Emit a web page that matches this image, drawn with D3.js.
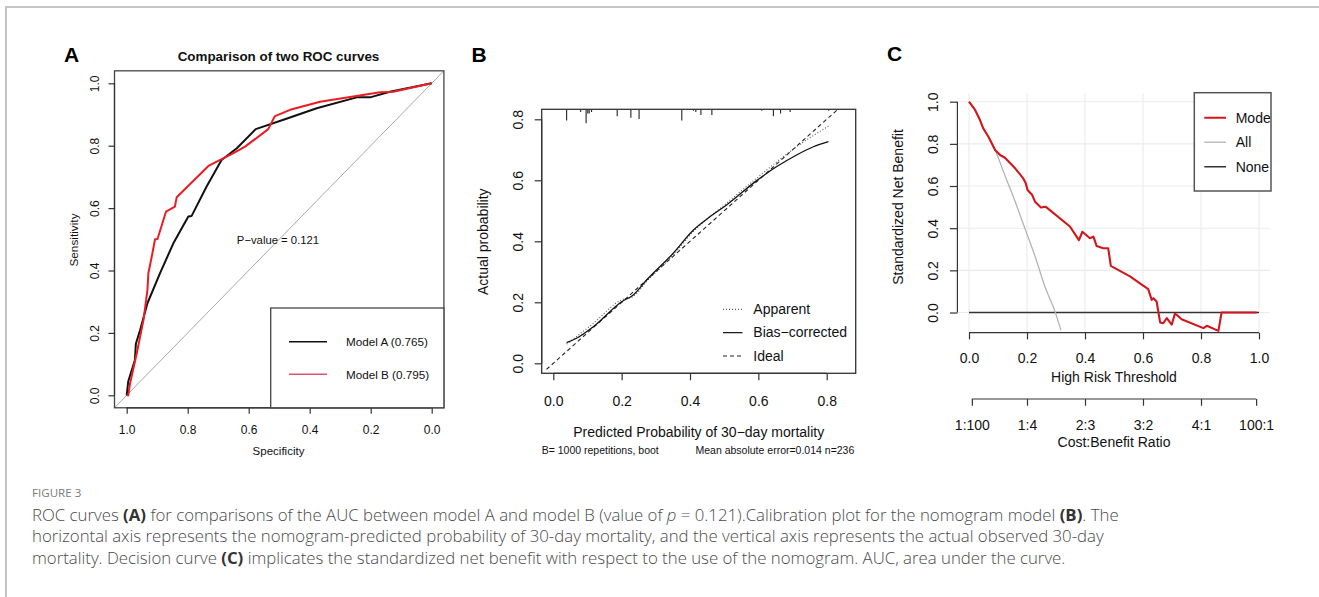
<!DOCTYPE html>
<html><head><meta charset="utf-8">
<script src="https://cdn.jsdelivr.net/npm/d3@7"></script>
<style>
html,body{margin:0;padding:0;background:#fff;}
svg{display:block;}
</style></head>
<body>
<svg id="fig" width="1319" height="597"></svg>
<script>
// ---------------- DATA ----------------
// Panel A: ROC curves
const rocSpecA = [1.0, 0.995, 0.973, 0.970, 0.956, 0.932, 0.891, 0.847, 0.798, 0.787, 0.738, 0.689, 0.639, 0.577, 0.486, 0.377, 0.246, 0.202, 0.137, 0.0];
const rocSensA = [0.0, 0.044, 0.113, 0.165, 0.209, 0.295, 0.391, 0.487, 0.573, 0.575, 0.669, 0.754, 0.792, 0.853, 0.883, 0.920, 0.955, 0.955, 0.973, 1.0];
const rocSpecB = [1.0, 0.995, 0.989, 0.967, 0.945, 0.932, 0.929, 0.918, 0.907, 0.899, 0.871, 0.842, 0.836, 0.792, 0.732, 0.650, 0.612, 0.536, 0.514, 0.464, 0.366, 0.169, 0.126, 0.0];
const rocSensB = [0.0, 0.0, 0.038, 0.135, 0.241, 0.338, 0.391, 0.444, 0.500, 0.501, 0.589, 0.605, 0.635, 0.677, 0.735, 0.776, 0.797, 0.853, 0.895, 0.915, 0.941, 0.971, 0.973, 1.0];
const rocTicks = [1.0, 0.8, 0.6, 0.4, 0.2, 0.0];
const rocLegend = ["Model A (0.765)", "Model B (0.795)"];
const pValueText = "P\u2212value = 0.121";

// Panel B: calibration
const calBiasX = [0.039, 0.068, 0.117, 0.200, 0.234, 0.273, 0.351, 0.410, 0.459, 0.507, 0.595, 0.654, 0.712, 0.761, 0.805];
const calBiasY = [0.068, 0.082, 0.120, 0.202, 0.224, 0.273, 0.361, 0.437, 0.481, 0.519, 0.599, 0.645, 0.683, 0.710, 0.727];
const calAppX = [0.039, 0.117, 0.200, 0.234, 0.273, 0.351, 0.410, 0.507, 0.595, 0.712, 0.810];
const calAppY = [0.063, 0.131, 0.208, 0.219, 0.268, 0.355, 0.432, 0.525, 0.607, 0.710, 0.781];
const calIdeal = [-0.02, 0.86];
const rugX = [0.039, 0.080, 0.096, 0.101, 0.105, 0.112, 0.187, 0.227, 0.251, 0.376, 0.410, 0.417, 0.432, 0.464, 0.610, 0.644, 0.665, 0.693, 0.806];
const rugCount = [8, 2, 10, 3, 3, 2, 5, 6, 7, 8, 1, 2, 4, 4, 1, 5, 3, 2, 1];
const calTicks = [0.0, 0.2, 0.4, 0.6, 0.8];
const calLegend = ["Apparent", "Bias\u2212corrected", "Ideal"];

// Panel C: decision curve
const dcaT = [0, 0.021, 0.038, 0.049, 0.067, 0.090, 0.107, 0.124, 0.159, 0.187, 0.195, 0.202, 0.218, 0.228, 0.248, 0.264, 0.348, 0.379, 0.391, 0.417, 0.429, 0.440, 0.463, 0.480, 0.489, 0.555, 0.618, 0.630, 0.636, 0.647, 0.659, 0.670, 0.682, 0.699, 0.710, 0.716, 0.733, 0.808, 0.820, 0.860, 0.871, 0.992];
const dcaModel = [1.0, 0.961, 0.913, 0.874, 0.834, 0.771, 0.747, 0.734, 0.684, 0.636, 0.616, 0.581, 0.557, 0.525, 0.498, 0.502, 0.408, 0.343, 0.383, 0.352, 0.360, 0.316, 0.305, 0.305, 0.221, 0.171, 0.111, 0.060, 0.068, 0.052, -0.047, -0.051, -0.027, -0.058, -0.006, -0.011, -0.032, -0.074, -0.063, -0.087, 0, 0];
const dcaAllT = [0, 0.021, 0.038, 0.049, 0.067, 0.090, 0.124, 0.159, 0.193, 0.228, 0.262, 0.297, 0.317];
const dcaAll = [1.0, 0.961, 0.913, 0.874, 0.834, 0.771, 0.650, 0.527, 0.398, 0.266, 0.122, 0.003, -0.084];
const dcaNoneT = [0, 1];
const dcaNone = [0, 0];
const dcaTicks = [0.0, 0.2, 0.4, 0.6, 0.8, 1.0];
const ratioTicks = [0.0099, 0.2, 0.4, 0.6, 0.8, 0.9901];
const ratioLabels = ["1:100", "1:4", "2:3", "3:2", "4:1", "100:1"];
const dcaLegend = ["Model", "All", "None"];

// Caption
const captionHead = "FIGURE 3";
const captionLines = [
  [["ROC curves ", ""], ["(A)", "b"], [" for comparisons of the AUC between model A and model B (value of ", ""], ["p", "i"], [" = 0.121).Calibration plot for the nomogram model ", ""], ["(B)", "b"], [". The", ""]],
  [["horizontal axis represents the nomogram-predicted probability of 30-day mortality, and the vertical axis represents the actual observed 30-day", ""]],
  [["mortality. Decision curve ", ""], ["(C)", "b"], [" implicates the standardized net benefit with respect to the use of the nomogram. AUC, area under the curve.", ""]]
];

// ---------------- DRAW ----------------
const svg = d3.select("#fig");
const F = "'Liberation Sans', Arial, Helvetica, sans-serif";
const fmt1 = d3.format(".1f");

// outer frame
svg.append("path").attr("d", "M6,597V7H1319").attr("fill", "none").attr("stroke", "#c4c4c4").attr("stroke-width", 2);

function zip(xs, ys) { return xs.map((x, i) => [x, ys[i]]); }

function axisBottomR(g, scale, ticks, y, tickLen, fs, labOff, labels) {
  const ax = d3.axisBottom(scale).tickValues(ticks).tickSize(tickLen).tickSizeOuter(0)
    .tickFormat((d, i) => labels ? labels[i] : fmt1(d));
  const a = g.append("g").attr("transform", `translate(0,${y})`).call(ax);
  a.select(".domain").remove();
  a.append("line").attr("x1", scale(ticks[0])).attr("x2", scale(ticks[ticks.length - 1]))
    .attr("stroke", "#333").attr("stroke-width", 1.2);
  a.selectAll(".tick line").attr("stroke", "#333").attr("stroke-width", 1.2);
  a.selectAll("text").attr("y", labOff).attr("dy", 0).attr("fill", "#111")
    .style("font-size", fs + "px").style("font-family", F);
  return a;
}
function axisLeftR(g, scale, ticks, x, tickLen, fs, labOff) {
  const ax = d3.axisLeft(scale).tickValues(ticks).tickSize(tickLen).tickSizeOuter(0).tickFormat(fmt1);
  const a = g.append("g").attr("transform", `translate(${x},0)`).call(ax);
  a.select(".domain").remove();
  a.append("line").attr("y1", scale(ticks[0])).attr("y2", scale(ticks[ticks.length - 1]))
    .attr("stroke", "#333").attr("stroke-width", 1.2);
  a.selectAll(".tick line").attr("stroke", "#333").attr("stroke-width", 1.2);
  a.selectAll("text").attr("transform", "rotate(-90)").attr("x", 0).attr("y", -labOff).attr("dy", 0)
    .attr("text-anchor", "middle").attr("fill", "#111")
    .style("font-size", fs + "px").style("font-family", F);
  return a;
}
function txt(g, x, y, s, fs, opts = {}) {
  const t = g.append("text").attr("x", x).attr("y", y).text(s)
    .style("font-family", F).style("font-size", fs + "px").attr("fill", opts.fill || "#111")
    .attr("text-anchor", opts.anchor || "start");
  if (opts.bold) t.style("font-weight", "bold");
  if (opts.rot) t.attr("transform", `rotate(-90,${x},${y})`);
  return t;
}

// ===== Panel A =====
{
  const g = svg.append("g");
  const x = d3.scaleLinear().domain([1, 0]).range([126.7, 431.7]);
  const y = d3.scaleLinear().domain([0, 1]).range([395.3, 83.3]);
  const x0 = x(1.04), x1 = x(-0.04), y0 = y(-0.04), y1 = y(1.04);
  g.append("clipPath").attr("id", "clipA").append("rect").attr("x", x0).attr("y", y1).attr("width", x1 - x0).attr("height", y0 - y1);
  const pg = g.append("g").attr("clip-path", "url(#clipA)");
  pg.append("line").attr("x1", x(1.04)).attr("y1", y(-0.04)).attr("x2", x(-0.04)).attr("y2", y(1.04))
    .attr("stroke", "#a8a8a8").attr("stroke-width", 1);
  const line = d3.line().x(d => x(d[0])).y(d => y(d[1]));
  pg.append("path").datum(zip(rocSpecA, rocSensA)).attr("d", line).attr("fill", "none").attr("stroke", "#111").attr("stroke-width", 2).attr("stroke-linejoin", "round");
  pg.append("path").datum(zip(rocSpecB, rocSensB)).attr("d", line).attr("fill", "none").attr("stroke", "#ec1c24").attr("stroke-width", 2).attr("stroke-linejoin", "round");
  g.append("rect").attr("x", x0).attr("y", y1).attr("width", x1 - x0).attr("height", y0 - y1)
    .attr("fill", "none").attr("stroke", "#444").attr("stroke-width", 1.3);
  axisBottomR(g, x, rocTicks, y0, 6, 12, 26.5);
  axisLeftR(g, y, rocTicks.slice().reverse(), x0, 6, 12, 15.8);
  const lx0 = 270.7;
  g.append("rect").attr("x", lx0).attr("y", 308).attr("width", x1 - lx0).attr("height", y0 - 308)
    .attr("fill", "#fff").attr("stroke", "#444").attr("stroke-width", 1.3);
  const legCols = ["#111", "#df536b"];
  rocLegend.forEach((s, i) => {
    const ly = 341.7 + i * 32.6;
    g.append("line").attr("x1", 289).attr("x2", 327).attr("y1", ly).attr("y2", ly).attr("stroke", legCols[i]).attr("stroke-width", 1.6);
    txt(g, 346, ly + 4.2, s, 11.7);
  });
  txt(g, 278, 244, pValueText, 11.3, { anchor: "middle" });
  txt(g, 278.5, 61, "Comparison of two ROC curves", 13.4, { anchor: "middle", bold: true });
  txt(g, 278.5, 454.5, "Specificity", 11.5, { anchor: "middle" });
  txt(g, 77.5, 240, "Sensitivity", 11.8, { anchor: "middle", rot: true });
  txt(g, 64, 62, "A", 21, { bold: true, fill: "#000" });
}

// ===== Panel B =====
{
  const g = svg.append("g");
  const x = d3.scaleLinear().domain([0, 0.8]).range([553.3, 826.7]);
  const y = d3.scaleLinear().domain([0, 0.8]).range([363.3, 119.3]);
  const bx0 = 541.7, bx1 = 855.7, by0 = 373.3, by1 = 109.3;
  g.append("clipPath").attr("id", "clipB").append("rect").attr("x", bx0).attr("y", by1).attr("width", bx1 - bx0).attr("height", by0 - by1);
  const pg = g.append("g").attr("clip-path", "url(#clipB)");
  const line = d3.line().x(d => x(d[0])).y(d => y(d[1]));
  const sm = d3.line().x(d => x(d[0])).y(d => y(d[1])).curve(d3.curveMonotoneX);
  pg.append("path").datum(zip(calIdeal, calIdeal)).attr("d", line).attr("fill", "none").attr("stroke", "#222").attr("stroke-width", 1.1).attr("stroke-dasharray", "4,3");
  pg.append("path").datum(zip(calAppX, calAppY)).attr("d", sm).attr("fill", "none").attr("stroke", "#555").attr("stroke-width", 1.1).attr("stroke-dasharray", "1,2");
  pg.append("path").datum(zip(calBiasX, calBiasY)).attr("d", sm).attr("fill", "none").attr("stroke", "#111").attr("stroke-width", 1.3);
  const h = d3.scaleLinear().domain([0, 10]).range([0, 14]);
  pg.selectAll("line.rug").data(zip(rugX, rugCount)).enter().append("line")
    .attr("x1", d => x(d[0])).attr("x2", d => x(d[0])).attr("y1", by1).attr("y2", d => by1 + h(d[1]))
    .attr("stroke", "#222").attr("stroke-width", 1.1);
  g.append("rect").attr("x", bx0).attr("y", by1).attr("width", bx1 - bx0).attr("height", by0 - by1)
    .attr("fill", "none").attr("stroke", "#333").attr("stroke-width", 1.3);
  axisBottomR(g, x, calTicks, by0, 7, 14, 32.4);
  axisLeftR(g, y, calTicks, bx0, 7, 14, 18.4);
  const dashes = ["1,2", null, "4,3"];
  const cols = ["#555", "#111", "#222"];
  calLegend.forEach((s, i) => {
    const ly = 309.3 + i * 23.35;
    const l = g.append("line").attr("x1", 723).attr("x2", 742.5).attr("y1", ly).attr("y2", ly).attr("stroke", cols[i]).attr("stroke-width", 1.2);
    if (dashes[i]) l.attr("stroke-dasharray", dashes[i]);
    txt(g, 753.3, ly + 4.8, s, 14);
  });
  txt(g, 698.7, 436.7, "Predicted Probability of 30\u2212day mortality", 14, { anchor: "middle" });
  txt(g, 541.7, 454.2, "B= 1000 repetitions, boot", 10.5);
  txt(g, 854.3, 454.2, "Mean absolute error=0.014 n=236", 10.5, { anchor: "end" });
  txt(g, 488.3, 241.7, "Actual probability", 14, { anchor: "middle", rot: true });
  txt(g, 471.5, 62, "B", 21, { bold: true, fill: "#000" });
}

// ===== Panel C =====
{
  const g = svg.append("g");
  const x = d3.scaleLinear().domain([0, 1]).range([969, 1259]);
  const y = d3.scaleLinear().domain([0, 1]).range([312.5, 101.7]);
  const rx0 = x(-0.04), rx1 = x(1.04), ry0 = y(-0.092), ry1 = y(1.042);
  g.append("clipPath").attr("id", "clipC").append("rect").attr("x", rx0).attr("y", ry1).attr("width", rx1 - rx0).attr("height", ry0 - ry1);
  const pg = g.append("g").attr("clip-path", "url(#clipC)");
  pg.selectAll("line.gx").data(dcaTicks).enter().append("line")
    .attr("x1", d => x(d)).attr("x2", d => x(d)).attr("y1", ry1).attr("y2", ry0)
    .attr("stroke", "#ebebeb").attr("stroke-width", 1.1);
  pg.selectAll("line.gy").data(dcaTicks).enter().append("line")
    .attr("y1", d => y(d)).attr("y2", d => y(d)).attr("x1", rx0).attr("x2", rx1)
    .attr("stroke", "#ebebeb").attr("stroke-width", 1.1);
  const line = d3.line().x(d => x(d[0])).y(d => y(d[1]));
  pg.append("path").datum(zip(dcaNoneT, dcaNone)).attr("d", line).attr("fill", "none").attr("stroke", "#333").attr("stroke-width", 1.4);
  pg.append("path").datum(zip(dcaAllT, dcaAll)).attr("d", d3.line().x(d => x(d[0])).y(d => y(d[1])).curve(d3.curveMonotoneX)).attr("fill", "none").attr("stroke", "#b4b4b4").attr("stroke-width", 1.3);
  pg.append("path").datum(zip(dcaT, dcaModel)).attr("d", line).attr("fill", "none").attr("stroke", "#d3161b").attr("stroke-width", 2.1).attr("stroke-linejoin", "round");
  axisLeftR(g, y, dcaTicks, rx0, 7.5, 14, 19.4);
  axisBottomR(g, x, dcaTicks, 332.7, 6.7, 14, 30.6);
  axisBottomR(g, x, ratioTicks, 399, 6.7, 14, 31, ratioLabels);
  const lb = { x0: 1194.3, y0: 92.7, x1: 1271, y1: 191 };
  g.append("rect").attr("x", lb.x0).attr("y", lb.y0).attr("width", lb.x1 - lb.x0).attr("height", lb.y1 - lb.y0)
    .attr("fill", "#fff").attr("stroke", "#555").attr("stroke-width", 1.5);
  const lcols = ["#d3161b", "#bdbdbd", "#333"];
  const lg = g.append("g").attr("clip-path", "url(#clipC)");
  dcaLegend.forEach((s, i) => {
    const ly = 117.7 + i * 24.5;
    lg.append("line").attr("x1", 1204.3).attr("x2", 1226).attr("y1", ly).attr("y2", ly).attr("stroke", lcols[i]).attr("stroke-width", i === 0 ? 2 : 1.4);
    txt(lg, 1235.7, ly + 4.8, s, 14);
  });
  txt(g, 1114, 381.7, "High Risk Threshold", 14, { anchor: "middle" });
  txt(g, 1114, 446.7, "Cost:Benefit Ratio", 14, { anchor: "middle" });
  txt(g, 903.3, 207, "Standardized Net Benefit", 14, { anchor: "middle", rot: true });
  txt(g, 887, 61, "C", 21, { bold: true, fill: "#000" });
}

// ===== Caption =====
{
  const CF = "'Open Sans', 'Noto Sans', sans-serif";
  svg.append("text").attr("x", 32).attr("y", 496.7).text(captionHead)
    .style("font-family", CF).style("font-size", "11.6px").attr("fill", "#7a7a7a").style("font-weight", 400);
  captionLines.forEach((ln, i) => {
    const t = svg.append("text").attr("x", 32).attr("y", 520.7 + i * 21.4)
      .style("font-family", CF).style("font-size", "16.8px").attr("fill", "#4a4a4a").style("font-weight", 300);
    ln.forEach(([s, st]) => {
      const sp = t.append("tspan").text(s);
      if (st === "b") sp.style("font-weight", 700).attr("fill", "#333");
      if (st === "i") sp.style("font-style", "italic");
    });
  });
}
</script>
</body></html>
